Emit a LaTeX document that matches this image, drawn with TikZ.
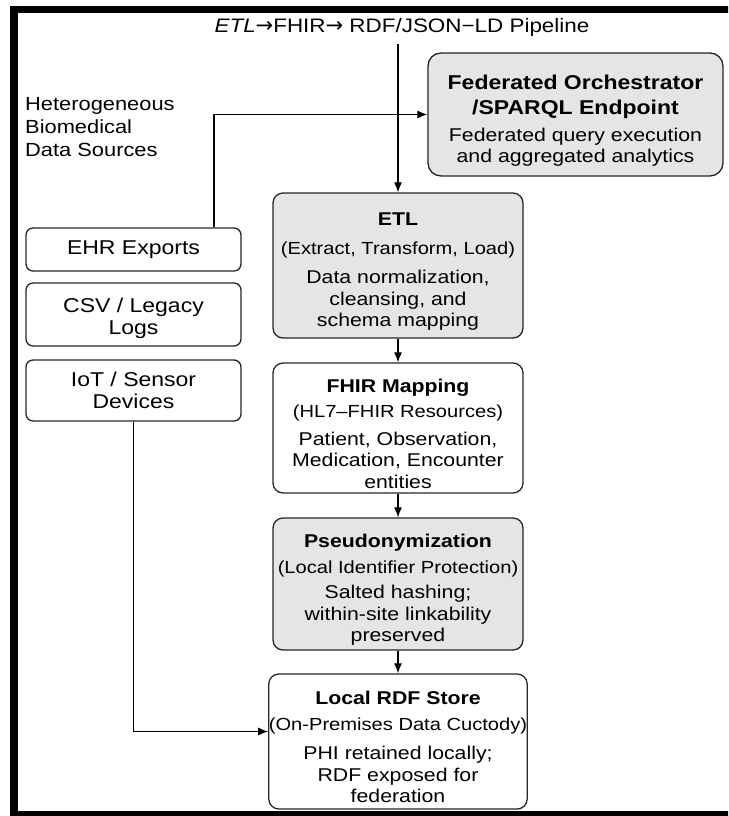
\documentclass[tikz,border=0pt]{standalone}
\usepackage{fontspec}
\setmainfont{Liberation Sans}[FakeStretch=1.15]
\newfontfamily\arrowfont{DejaVu Sans}
\usetikzlibrary{arrows.meta,shapes}
\tikzstyle{stage}=[draw=black!85,line width=1.3pt,rounded corners=10pt,minimum width=250pt,align=center,inner sep=0pt,font=\fontsize{18.5}{21.5}\selectfont]
\tikzstyle{shaded}=[stage,fill=black!10]
\tikzstyle{source}=[draw=black!85,line width=1.3pt,rounded corners=7pt,minimum width=215pt,align=center,inner sep=0pt,font=\fontsize{20}{22.5}\selectfont]
\tikzstyle{arr} = [draw,line width=1.2pt,-{Latex[length=10pt,width=8pt]}]
\newcommand{\stagetitle}[1]{\rule{0pt}{25pt}{\bfseries #1}}
\newcommand{\fedtitle}[1]{{\fontsize{20}{25}\selectfont\bfseries #1}}
\newcommand{\stagesub}[1]{{\fontsize{17.5}{21}\selectfont #1}}
\newcommand{\pipe}{{\arrowfont\fontsize{21}{21}\selectfont →}}

\begin{document}
\begin{tikzpicture}[x=1pt,y=-1pt]
    \useasboundingbox (0,0) rectangle (728,816);
    \clip (0,0) rectangle (728,816);
    \draw[line width=7.5pt] (14,9.5) rectangle (760,814.5);

    \node[font=\fontsize{19.5}{22}\selectfont] (title) at (402,27) {\textit{ETL}\pipe FHIR\pipe\ RDF/JSON−LD Pipeline};
    \node[anchor=west,align=left,inner sep=0pt,font=\fontsize{19}{23}\selectfont] (srclabel) at (25,127) {Heterogeneous\\Biomedical\\Data Sources};

    % data sources
    \node[source,minimum height=43pt] (ehr) at (133.5,249.5) {EHR Exports};
    \node[source,minimum height=63pt] (csv) at (133.5,314.5) {\rule{0pt}{22pt}CSV / Legacy\\Logs};
    \node[source,minimum height=61pt] (iot) at (133.5,390.5) {IoT / Sensor\\Devices};

    % pipeline stages
    \node[shaded,minimum width=295pt,minimum height=123pt,rounded corners=13pt] (fed) at (575.5,114.5)
        {\rule{0pt}{27pt}\fedtitle{Federated Orchestrator}\\[3.5pt] \fedtitle{/SPARQL Endpoint}\\[5pt] Federated query execution\\ and aggregated analytics};
    \node[shaded,minimum height=145pt] (etl) at (398,265.5)
        {\stagetitle{ETL}\\[7.5pt] \stagesub{(Extract, Transform, Load)}\\[7.5pt] Data normalization,\\ cleansing, and\\ schema mapping};
    \node[stage,minimum height=130pt] (fhir) at (398,428)
        {\stagetitle{FHIR Mapping}\\[3.5pt] \stagesub{(HL7–FHIR Resources)}\\[6.5pt] Patient, Observation,\\ Medication, Encounter\\ entities};
    \node[shaded,minimum height=132pt] (pseudo) at (398,584)
        {\stagetitle{Pseudonymization}\\[4.5pt] \stagesub{(Local Identifier Protection)}\\[3.5pt] Salted hashing;\\ within-site linkability\\ preserved};
    \node[stage,minimum height=135pt] (store) at (398,741.5)
        {\stagetitle{Local RDF Store}\\[4.5pt] \stagesub{(On-Premises Data Cuctody)}\\[7.5pt] PHI retained locally;\\ RDF exposed for\\ federation};

    \path[arr] ([yshift=-4pt]title.south -| etl.north) -- (etl.north);
    \foreach \source/\dest in {etl/fhir,fhir/pseudo,pseudo/store}
        \path[arr] (\source) -- (\dest);
    \path[arr] ([xshift=80.5pt]ehr.north) |- (fed.west);
    \path[arr] (iot.south) |- ([yshift=10pt]store.west);
\end{tikzpicture}
\end{document}
